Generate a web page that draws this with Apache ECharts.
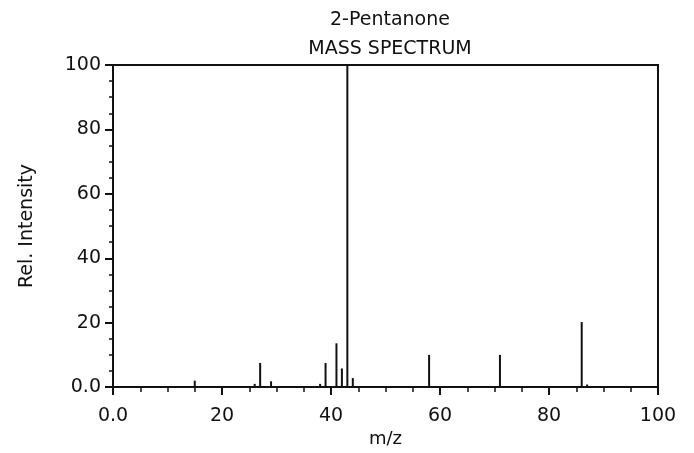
<!DOCTYPE html>
<html>
<head>
<meta charset="utf-8">
<script src="https://cdn.jsdelivr.net/npm/echarts@6/dist/echarts.min.js"></script>
<style>
html, body { margin: 0; padding: 0; background: #fff; }
#chartDiv { width: 694px; height: 453px; }
</style>
</head>
<body>
<div id="chartDiv"></div>
<script>
// m/z values and relative intensities
var mz = [15, 26, 27, 29, 38, 39, 41, 42, 43, 44, 58, 71, 86, 87];
var intensity = [2, 1, 7.5, 1.8, 1, 7.5, 13.6, 5.8, 100, 2.8, 10, 10, 20.2, 0.8];
var titleLines = ['2-Pentanone', 'MASS SPECTRUM'];

var ink = '#111';
var font = 'DejaVu Sans';

var peaks = [];
for (var i = 0; i < mz.length; i++) {
    peaks.push([mz[i], intensity[i]]);
}

function fmt(v) {
    return v === 0 ? '0.0' : String(v);
}

var myChart = echarts.init(document.getElementById('chartDiv'));
myChart.setOption({
    animation: false,
    backgroundColor: '#fff',
    title: [
        {text: titleLines[0], left: 385, top: 6, textAlign: 'center',
            textStyle: {fontFamily: font, fontSize: 19, fontWeight: 'normal', color: ink}},
        {text: titleLines[1], left: 385, top: 35, textAlign: 'center',
            textStyle: {fontFamily: font, fontSize: 19, fontWeight: 'normal', color: ink}}
    ],
    grid: {
        left: 113, right: 36, top: 65, bottom: 63,
        show: true, borderColor: ink, borderWidth: 2
    },
    xAxis: {
        type: 'value', min: 0, max: 100, interval: 20,
        name: 'm/z', nameLocation: 'middle', nameGap: 39,
        nameTextStyle: {fontFamily: font, fontSize: 18, color: ink},
        axisLine: {lineStyle: {color: ink, width: 2}},
        axisTick: {length: 8, lineStyle: {color: ink, width: 2}},
        minorTick: {show: true, splitNumber: 4, length: 5, lineStyle: {color: ink, width: 1.5}},
        splitLine: {show: false},
        axisLabel: {margin: 19, fontFamily: font, fontSize: 19, color: ink, formatter: fmt}
    },
    yAxis: {
        type: 'value', min: 0, max: 100, interval: 20,
        name: 'Rel. Intensity', nameLocation: 'middle', nameGap: 76,
        nameTextStyle: {fontFamily: font, fontSize: 19, color: ink},
        axisLine: {show: true, lineStyle: {color: ink, width: 2}},
        axisTick: {show: true, length: 8, lineStyle: {color: ink, width: 2}},
        minorTick: {show: true, splitNumber: 4, length: 4, lineStyle: {color: ink, width: 1.5}},
        splitLine: {show: false},
        axisLabel: {margin: 12, fontFamily: font, fontSize: 19, color: ink, formatter: fmt}
    },
    series: [{
        type: 'bar',
        data: peaks,
        barWidth: 2,
        itemStyle: {color: ink}
    }]
});
</script>
</body>
</html>
